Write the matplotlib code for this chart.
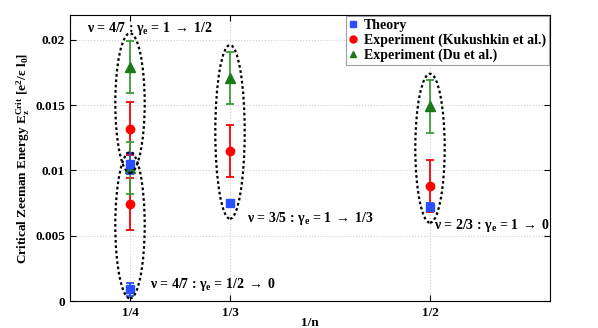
import matplotlib
matplotlib.use("Agg")
import matplotlib.pyplot as plt
from matplotlib.patches import Ellipse
from matplotlib.lines import Line2D
from matplotlib.ticker import FixedLocator, FixedFormatter

plt.rcParams['font.family'] = ['Liberation Serif', 'DejaVu Serif']
plt.rcParams['font.weight'] = 'bold'
plt.rcParams['mathtext.default'] = 'regular'

# ---- data ----
x_ticks = [1/4, 1/3, 1/2]
x_ticklabels = ['1/4', '1/3', '1/2']
y_ticks = [0, 0.005, 0.01, 0.015, 0.02]
y_ticklabels = ['0', '0.005', '0.01', '0.015', '0.02']

theory_x = [1/4, 1/4, 1/3, 1/2]
theory_y = [0.0105, 0.0009, 0.0075, 0.0072]
theory_err = [0.0008, 0.0005, 0.0002, 0.0003]

kuk_x = [1/4, 1/4, 1/3, 1/2]
kuk_y = [0.0132, 0.0074, 0.0115, 0.0088]
kuk_err = [0.002, 0.002, 0.002, 0.002]

du_x = [1/4, 1/4, 1/3, 1/2]
du_y = [0.0179, 0.0102, 0.0171, 0.0149]
du_err = [0.002, 0.002, 0.002, 0.002]

# ellipses: (x center, y low, y high)
ell_x = [1/4, 1/4, 1/3, 1/2]
ell_lo = [0.0098, 0.0002, 0.0063, 0.0060]
ell_hi = [0.0205, 0.0114, 0.0196, 0.0174]

ARROW = r'$\,{\rightarrow}\,$'
annotations = [
    (0.214, 0.0209, 'ν = 4/7 : γ$_e$ = 1' + ARROW + '1/2'),
    (0.267, 0.0013, 'ν = 4/7 : γ$_e$ = 1/2' + ARROW + '0'),
    (0.3475, 0.0063, 'ν = 3/5 : γ$_e$ = 1' + ARROW + '1/3'),
    (0.503, 0.0058, 'ν = 2/3 : γ$_e$ = 1' + ARROW + '0'),
]

fig = plt.figure(figsize=(5.98, 3.28), dpi=100)
ax = fig.add_axes([70/598, 1 - 301/328, 480/598, 286/328])

blue = '#2a4fff'
red = '#ff0000'
green_m = '#1a7a1a'
green_e = '#3b9b3b'

ax.errorbar(theory_x, theory_y, yerr=theory_err, fmt='s', color=blue,
            ms=5.5, ecolor=blue, elinewidth=1.3, capsize=3, capthick=1.3,
            zorder=4)
ax.errorbar(kuk_x, kuk_y, yerr=kuk_err, fmt='o', color=red,
            ms=6, ecolor=red, elinewidth=1.3, capsize=3, capthick=1.3,
            zorder=3)
ax.errorbar(du_x, du_y, yerr=du_err, fmt='^', color=green_m,
            ms=6.5, ecolor=green_e, elinewidth=1.3, capsize=3, capthick=1.3,
            zorder=3)

for xc, lo, hi in zip(ell_x, ell_lo, ell_hi):
    e = Ellipse((xc, (lo + hi) / 2), width=0.0245, height=hi - lo,
                fill=False, edgecolor='black', linewidth=1.6,
                linestyle=(0, (1.2, 1.2)), zorder=5)
    ax.add_patch(e)

for xa, ya, s in annotations:
    ax.text(xa, ya, s, fontsize=10, fontweight='bold', ha='left', va='center')

ax.set_xlim(0.2, 0.6)
ax.set_ylim(0, 0.0219)
ax.xaxis.set_major_locator(FixedLocator(x_ticks))
ax.xaxis.set_major_formatter(FixedFormatter(x_ticklabels))
ax.yaxis.set_major_locator(FixedLocator(y_ticks))
ax.yaxis.set_major_formatter(FixedFormatter(y_ticklabels))
ax.tick_params(direction='in', length=4, width=0.8, top=True, right=True,
               labelsize=9.5)
ax.tick_params(axis='x', pad=4)
for lab in ax.get_xticklabels() + ax.get_yticklabels():
    lab.set_fontweight('bold')
ax.grid(True, linestyle=':', color='#cfcfcf', linewidth=0.8)
ax.set_axisbelow(True)
for sp in ax.spines.values():
    sp.set_linewidth(0.8)

ax.set_xlabel('1/n', fontsize=9.5, fontweight='bold', labelpad=-1)
ax.set_ylabel(r'Critical Zeeman Energy E$_z^{Crit}$ [e$^2$/ε l$_0$]',
              fontsize=9.5, fontweight='bold', labelpad=2)

handles = [
    Line2D([], [], linestyle='none', marker='s', color=blue, ms=4),
    Line2D([], [], linestyle='none', marker='o', color=red, ms=5),
    Line2D([], [], linestyle='none', marker='^', color=green_m, ms=5),
]
labels = ['Theory', 'Experiment (Kukushkin et al.)', 'Experiment (Du et al.)']
leg = ax.legend(handles, labels, loc='upper right', borderaxespad=0.1,
                handlelength=0.6, handletextpad=0.5, borderpad=0.2,
                labelspacing=0.12, fancybox=False, framealpha=1,
                edgecolor='#a0a0a0', prop={'weight': 'bold', 'size': 10})
leg.get_frame().set_linewidth(0.8)

fig.savefig('out.png', dpi=100)
